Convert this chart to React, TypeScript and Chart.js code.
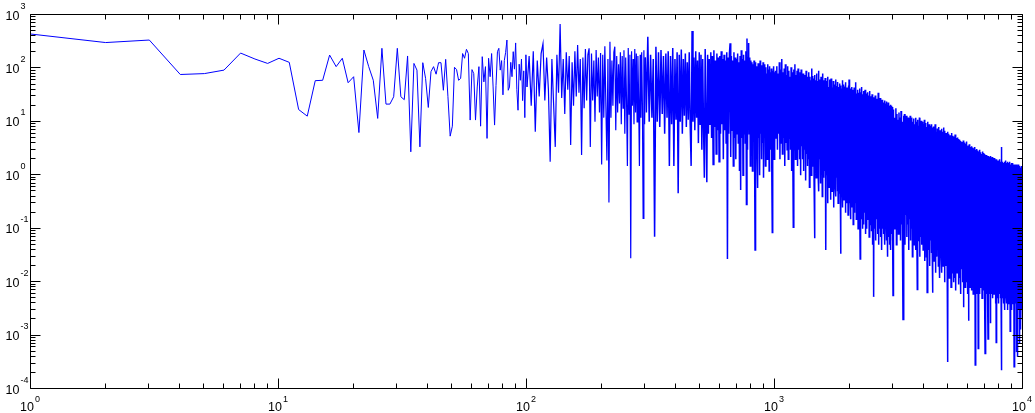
import React, { useEffect, useRef } from "react";
import { Chart, registerables } from "chart.js";

Chart.register(...registerables);

// Spectrum amplitudes.
// segA: bins 1..100 (every bin)
const segAStart = 1;
const segAStep = 1;
const segA = [
  440, 305, 340, 77, 80, 93, 194, 150, 124, 155,
  130, 17, 12.8, 59, 60, 178, 108, 155, 54, 70,
  6.3, 221, 108, 60, 11.6, 238, 21.5, 21.5, 29.5, 238,
  29.5, 26, 171, 2.75, 124, 93, 3.4, 128, 65, 18.6,
  87, 108, 78, 128, 128, 39, 148, 29.5, 5.4, 8.3,
  105, 95, 60, 65, 190, 155, 228, 190, 10.8, 95,
  80, 10.8, 45, 108, 8.3, 166, 56, 108, 4.9, 155,
  70, 190, 45, 8.7, 48, 206, 238, 93, 140, 32,
  140, 200, 340, 39, 45, 130, 70, 206, 97, 300,
  40, 16.5, 120, 60, 150, 25, 90, 12, 180, 45,
];

// segB: bins 102..300, every 2nd bin
const segBStart = 102;
const segBStep = 2;
const segB = [
  170, 20, 210, 6.5, 140, 30, 190, 290, 25, 160,
  40, 1.8, 150, 22, 3.4, 180, 35, 680, 28, 150,
  14, 200, 40, 170, 3.7, 130, 20, 210, 30, 275,
  35, 150, 2.4, 160, 18, 230, 25, 180, 238, 3.4,
  190, 25, 140, 10, 220, 30, 160, 15, 194, 1.6,
  180, 12, 260, 20, 1.9, 150, 0.31, 316, 12, 140,
  20, 200, 255, 7, 170, 15, 120, 22, 200, 9,
  170, 18, 220, 6, 160, 25, 1.5, 240, 14, 180,
  0.028, 210, 20, 150, 9, 230, 15, 190, 10, 170,
  25, 1.5, 180, 12, 200, 20, 0.156, 220, 9, 160,
];

// segC: bins 303..999, every 4th bin
const segCStart = 303;
const segCStep = 4;
const segC = [
  15, 390, 10, 180, 12, 150, 0.071, 255, 10, 200,
  8, 220, 14, 170, 6, 190, 12, 210, 1.5, 170,
  9, 240, 1.5, 150, 11, 200, 0.46, 180, 10, 225,
  6, 150, 13, 190, 8, 130, 11, 200, 9, 1.5,
  500, 10, 160, 7, 210, 12, 140, 4, 200, 9,
  180, 3, 150, 8, 0.9, 230, 10, 0.74, 180, 6,
  150, 9, 200, 5, 170, 1.6, 220, 8, 140, 2.5,
  190, 7, 160, 1.8, 170, 6, 210, 9, 150, 2,
  180, 7, 140, 4, 200, 0.027, 160, 6, 190, 295,
  2.2, 170, 7, 140, 1.5, 200, 5, 160, 2, 150,
  6, 190, 4, 130, 1.2, 170, 0.53, 220, 5, 150,
  1, 180, 6, 140, 4, 210, 0.285, 365, 3, 160,
  300, 6, 160, 1.5, 140, 5, 130, 1.2, 120, 6,
  140, 3, 0.04, 130, 5, 110, 2, 0.58, 125, 5,
  95, 1, 140, 6, 100, 2, 115, 4, 130, 0.9,
  120, 5, 90, 1.5, 105, 6, 80, 2, 120, 5,
  95, 1.2, 110, 4, 85, 3, 100, 0.9, 0.085, 90,
  5, 110, 2, 85, 4,
];

// segD: bins 1005..2997, every 6th bin
const segDStart = 1005;
const segDStep = 6;
const segD = [
  90, 5, 110, 3, 80, 6, 130, 2, 95, 4,
  150, 2.5, 85, 5, 100, 1.5, 120, 4, 75, 3,
  110, 2, 90, 5, 70, 3, 105, 1.2, 85, 4,
  0.106, 95, 3, 120, 2, 75, 4, 90, 1.5, 100,
  3, 70, 2, 85, 1, 95, 3.5, 65, 2, 80,
  1.2, 75, 3, 60, 0.8, 90, 2.5, 70, 1.5, 65,
  2, 85, 0.6, 70, 2.5, 60, 1, 100, 2, 72,
  1.5, 65, 0.8, 0.066, 75, 2, 60, 0.9, 80, 1.6,
  58, 1.2, 90, 0.5, 62, 2, 55, 0.7, 70, 1.4,
  52, 0.4, 80, 1.6, 60, 0.9, 48, 1.2, 66, 0.5,
  0.04, 58, 1, 50, 0.3, 70, 1.3, 45, 0.6, 62,
  0.9, 48, 0.35, 65, 1.1, 52, 0.5, 44, 0.8, 58,
  0.25, 50, 1, 42, 0.6, 62, 0.4, 47, 0.9, 40,
  0.5, 56, 0.3, 45, 0.8, 38, 0.45, 52, 0.7, 0.034,
  48, 0.4, 42, 0.9, 60, 0.25, 40, 0.6, 50, 0.35,
  38, 0.7, 46, 0.2, 55, 0.5, 36, 0.3, 44, 0.8,
  40, 0.18, 48, 0.6, 62, 0.3, 35, 0.45, 42, 0.15,
  38, 0.5, 45, 0.25, 33, 0.6, 40, 0.12, 36, 0.4,
  44, 0.2, 32, 0.5, 38, 0.3, 55, 0.15, 34, 0.45,
  30, 0.25, 40, 0.1, 35, 0.4, 28, 0.2, 42, 0.3,
  0.027, 36, 0.3, 30, 0.15, 45, 0.35, 28, 0.1, 33,
  0.4, 38, 0.12, 27, 0.3, 32, 0.2, 40, 0.08, 29,
  0.25, 34, 0.35, 26, 0.1, 30, 0.2, 36, 0.15, 25,
  0.3, 31, 0.07, 28, 0.25, 38, 0.12, 24, 0.2, 30,
  0.09, 26, 0.3, 33, 0.15, 23, 0.05, 29, 0.22, 25,
  0.0053, 28, 0.18, 22, 0.1, 31, 0.25, 24, 0.06, 26,
  0.15, 21, 0.3, 27, 0.08, 23, 0.2, 35, 0.12, 22,
  0.05, 25, 0.18, 20, 0.1, 28, 0.25, 21, 0.07, 24,
  0.15, 19, 0.04, 26, 0.2, 22, 0.1, 18, 0.3, 23,
  0.08, 20, 0.15, 25, 0.05, 19, 0.2, 22, 0.1, 17,
  0.12, 24, 0.06, 18, 0.2, 21, 0.03, 19, 0.15, 23,
  0.07, 17, 0.12, 20, 0.05, 18, 0.18, 16, 0.09, 21,
  0.04, 18, 0.14, 16, 0.08, 20, 0.1, 15, 0.06, 19,
  0.12, 0.0056, 17,
];

// segE: bins 3012..9987, every 15th bin
const segEStart = 3012;
const segEStep = 15;
const segE = [
  16, 0.1, 12, 0.25, 18, 0.05, 14, 0.15, 11, 0.08,
  15, 0.2, 12, 0.06, 16, 0.12, 10, 0.04, 0.002, 13,
  0.1, 14, 0.05, 11, 0.18, 13, 0.07, 9.5, 0.12, 12,
  0.04, 11, 0.15, 13, 0.06, 9, 0.1, 12, 0.03, 10,
  0.08, 11.5, 0.05, 9, 0.12, 12, 0.04, 10, 0.09, 0.0073,
  11, 0.06, 8.5, 0.1, 12, 0.03, 9.5, 0.07, 10.5, 0.05,
  8, 0.12, 10, 0.04, 9, 0.08, 11, 0.025, 8.5, 0.06,
  9.5, 0.03, 8, 0.0064, 10, 0.07, 7.5, 0.04, 9, 0.1,
  0.02, 8.5, 0.06, 7, 0.035, 9, 0.05, 0.0063, 7.8, 0.08,
  8.2, 0.025, 6.8, 0.06, 9, 0.015, 7.2, 0.045, 6.5, 0.03,
  7.5, 0.07, 6.2, 0.02, 8, 0.04, 6.8, 0.012, 7, 0.05,
  6, 0.03, 7.4, 0.015, 6.5, 0.06, 5.8, 0.02, 7.8, 0.035,
  5.6, 0.01, 6.8, 0.04, 5.4, 0.02, 6.2, 0.05, 5.8, 0.015,
  6.5, 0.00032, 5.2, 0.03, 6, 0.012, 4.8, 0.04, 5.6, 0.02,
  5, 0.008, 6.2, 0.03, 4.6, 0.015, 5.5, 0.025, 4.9, 0.01,
  5.3, 0.035, 4.4, 0.012, 5.8, 0.02, 4.6, 0.007, 5, 0.03,
  4.2, 0.015, 5.1, 0.025, 4, 0.009, 4.8, 0.02, 4.3, 0.012,
  4.6, 0.03, 3.9, 0.006, 4.4, 0.018, 3.7, 0.025, 4.2, 0.01,
  3.6, 0.02, 4.5, 0.0034, 3.8, 0.012, 4.1, 0.025, 3.4, 0.008,
  3.9, 0.015, 3.3, 0.03, 4.3, 0.01, 3.5, 0.02, 3.1, 0.006,
  3.6, 0.0019, 3.2, 0.012, 3.8, 0.02, 2.9, 0.008, 3.4, 0.015,
  3, 0.025, 3.5, 0.007, 2.8, 0.012, 3.3, 0.018, 2.9, 0.006,
  3.2, 0.01, 2.7, 0.02, 3.4, 0.008, 2.8, 0.00028, 3, 0.012,
  2.6, 0.018, 3.1, 0.006, 2.7, 0.012, 2.9, 0.009, 2.5, 0.00057,
  2.8, 0.01, 2.4, 0.016, 3, 0.006, 2.6, 0.012, 2.3, 0.02,
  2.7, 0.008, 2.5, 0.014, 2.2, 0.005, 2.8, 0.01, 2.4, 0.018,
  2.3, 0.007, 2.6, 0.012, 2.2, 0.009, 2.5, 0.005, 0.00046, 2.4,
  0.012, 2.1, 0.008, 2.4, 0.015, 2, 0.006, 2.3, 0.01, 2.2,
  0.005, 0.00086, 2.1, 0.012, 2.3, 0.007, 1.9, 0.01, 2.2, 0.006,
  2, 0.012, 2.3, 0.0017, 1.9, 0.008, 2.1, 0.014, 1.8, 0.006,
  2.2, 0.01, 1.9, 0.005, 2.1, 0.012, 1.8, 0.008, 2, 0.006,
  1.9, 0.011, 2.1, 0.006, 1.7, 0.009, 2, 0.004, 1.8, 0.00074,
  2, 0.008, 1.7, 0.012, 1.9, 0.005, 1.8, 0.009, 1.6, 0.007,
  1.9, 0.004, 1.7, 0.01, 1.8, 0.006, 2, 0.008, 1.6, 0.005,
  1.8, 0.009, 1.6, 0.006, 0.000225, 1.7, 3.4, 0.007, 1.8, 0.01,
  1.6, 0.005, 1.8, 0.008, 1.5, 0.004, 1.7, 0.009, 1.6, 0.006,
  1.8, 0.007, 1.5, 0.003, 1.7, 0.008, 1.6, 0.005, 1.9, 0.006,
  1.5, 0.009, 1.7, 0.004, 1.6, 0.007, 1.5, 0.005, 1.8, 0.003,
  1.6, 0.006, 1.5, 0.008, 1.7, 0.004, 1.5, 0.007, 1.6, 0.005,
  1.8, 0.0012, 1.5, 0.006, 1.6, 0.004, 1.4, 0.008, 1.7, 0.005,
  1.5, 0.003, 1.6, 0.007, 1.4, 0.005, 1.7, 0.004, 1.5, 0.006,
  1.4, 0.005, 1.6, 0.00026, 1.5, 0.006, 1.4, 0.0035, 1.6, 0.005,
  1.5, 0.004, 1.4, 0.006, 1.6, 0.00049, 1.4, 0.005, 1.5, 0.003,
  1.3, 0.006, 1.5, 0.0004, 1.4, 0.005, 1.6, 0.003, 1.4, 0.0045,
  1.5, 0.004, 1.3, 0.006, 1.4, 0.003, 0.00071, 1.5, 0.005, 1.3,
  0.004, 1.4, 0.0025, 0.0013, 1.35, 0.005, 1.5, 0.003, 1.3, 0.0045,
  1.4, 0.003, 1.3, 0.004, 1.35, 0.002,
];

// axis decades (tick labels are 10^exponent)
const xExponents = [0, 1, 2, 3, 4];
const yExponents = [-4, -3, -2, -1, 0, 1, 2, 3];
const minorMultipliers = [2, 3, 4, 5, 6, 7, 8, 9];

const segments: [number, number, number[]][] = [
  [segAStart, segAStep, segA],
  [segBStart, segBStep, segB],
  [segCStart, segCStep, segC],
  [segDStart, segDStep, segD],
  [segEStart, segEStep, segE],
];

function buildPoints() {
  const pts: { x: number; y: number }[] = [];
  for (const [start, step, vals] of segments) {
    vals.forEach((v, i) => pts.push({ x: start + i * step, y: v }));
  }
  return pts;
}

const BASE_FONT = '12.5px "Liberation Sans", Arial, sans-serif';
const SUP_FONT = '9px "Liberation Sans", Arial, sans-serif';

const matlabAxes = {
  id: "matlabAxes",
  afterDraw(chart: any) {
    const { ctx, chartArea: a, scales } = chart;
    const xs = scales.x;
    const ys = scales.y;
    const L = a.left - 0.5;
    const R = a.right - 0.5;
    const T = a.top - 0.5;
    const B = a.bottom - 0.5;
    ctx.save();
    ctx.strokeStyle = "#000";
    ctx.lineWidth = 1;
    ctx.beginPath();
    ctx.rect(L, T, R - L, B - T);
    const xTick = (v: number, len: number) => {
      const p = Math.round(xs.getPixelForValue(v)) - 0.5;
      ctx.moveTo(p, B);
      ctx.lineTo(p, B - len);
      ctx.moveTo(p, T);
      ctx.lineTo(p, T + len);
    };
    const yTick = (v: number, len: number) => {
      const p = Math.round(ys.getPixelForValue(v)) - 0.5;
      ctx.moveTo(L, p);
      ctx.lineTo(L + len, p);
      ctx.moveTo(R, p);
      ctx.lineTo(R - len, p);
    };
    xExponents.forEach((e, i) => {
      xTick(Math.pow(10, e), 10);
      if (i < xExponents.length - 1)
        minorMultipliers.forEach((m) => xTick(m * Math.pow(10, e), 5));
    });
    yExponents.forEach((e, i) => {
      yTick(Math.pow(10, e), 10);
      if (i < yExponents.length - 1)
        minorMultipliers.forEach((m) => yTick(m * Math.pow(10, e), 5));
    });
    ctx.stroke();

    ctx.fillStyle = "#000";
    ctx.textBaseline = "alphabetic";
    ctx.textAlign = "left";
    yExponents.forEach((e) => {
      const p = ys.getPixelForValue(Math.pow(10, e));
      ctx.font = BASE_FONT;
      ctx.fillText("10", 5.5, p + 4.5);
      const w = ctx.measureText("10").width;
      ctx.font = SUP_FONT;
      ctx.fillText(String(e), 5.5 + w + 1, p - 6.5);
    });
    xExponents.forEach((e) => {
      const p = xs.getPixelForValue(Math.pow(10, e));
      ctx.font = BASE_FONT;
      const w = ctx.measureText("10").width;
      ctx.font = SUP_FONT;
      const ws = ctx.measureText(String(e)).width;
      const total = w + 1 + ws;
      const x0 = p - 1 - total / 2;
      ctx.font = BASE_FONT;
      ctx.fillText("10", x0, a.bottom + 22);
      ctx.font = SUP_FONT;
      ctx.fillText(String(e), x0 + w + 1, a.bottom + 12.5);
    });
    ctx.restore();
  },
};

export default function App() {
  const ref = useRef<HTMLCanvasElement | null>(null);
  useEffect(() => {
    if (!ref.current) return;
    const chart = new Chart(ref.current, {
      type: "line",
      data: {
        datasets: [
          {
            data: buildPoints(),
            borderColor: "#0000ff",
            borderWidth: 1,
            pointRadius: 0,
            tension: 0,
            fill: false,
            segment: {
              borderWidth: (c: any) =>
                c.p0.parsed.x >= 300 ? 1.5 : c.p0.parsed.x >= 100 ? 1.2 : 1,
            },
          },
        ],
      },
      options: {
        animation: false,
        responsive: false,
        devicePixelRatio: 1,
        events: [],
        layout: { padding: { left: 31, top: 15, right: 12, bottom: 24 } },
        scales: {
          x: { type: "logarithmic", min: 1, max: 10000, display: false },
          y: { type: "logarithmic", min: 1e-4, max: 1e3, display: false },
        },
        plugins: {
          legend: { display: false },
          tooltip: { enabled: false },
          title: { display: false },
        },
      },
      plugins: [matlabAxes],
    });
    return () => chart.destroy();
  }, []);
  return (
    <div style={{ position: "absolute", left: 0, top: 0, width: 1035, height: 413, background: "#fff" }}>
      <canvas ref={ref} width={1035} height={413} style={{ display: "block" }} />
    </div>
  );
}
